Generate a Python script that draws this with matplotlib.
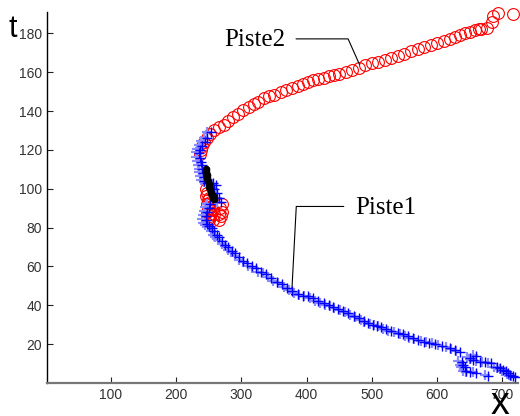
import numpy as np
import matplotlib
matplotlib.use("Agg")
import matplotlib.pyplot as plt
from matplotlib.transforms import ScaledTranslation

# Piste2 (red circles): x, t
piste2_x = [250, 252, 248, 254, 250, 247, 253, 249, 246, 251, 248, 245, 250, 256, 252,
            266, 268, 270, 267, 270, 265, 256, 258,
            236, 238, 240, 243, 247, 252, 258, 266, 273, 280, 287, 295, 303, 312, 320,
            326, 334, 342, 350, 360, 369, 378, 386, 394, 402, 410, 418, 426, 434, 442,
            450, 460, 470, 480, 490, 500, 510, 520, 530, 540, 550, 560, 570, 580, 590,
            600, 610, 620, 628, 635, 642, 650, 658, 664, 668, 676, 684, 686, 694, 717]
piste2_t = [84, 86, 88, 87, 90, 92, 91, 94, 96, 95, 98, 100, 85, 89, 93,
            84, 86, 88, 90, 92, 87, 84, 87,
            118, 120, 122, 124, 126, 128, 130, 132, 133, 135, 137, 138.5, 140.5, 142, 143.5,
            144.5, 146.5, 147.5, 148.5, 150, 151, 152, 153, 154, 155, 156, 156.5, 157, 158, 158.5,
            159, 160, 161, 162, 163.5, 164.5, 165.5, 166.5, 167.5, 168.5, 169.5, 171, 172, 173, 174,
            175, 176, 177, 178, 179, 180, 180.5, 181.5, 182, 182.5, 183, 186, 189, 190.5, 190]

# Piste1 (blue crosses): x, t
piste1_x = [253, 248, 244, 240, 237, 235, 236, 238, 239, 240, 241, 242, 243, 248, 256,
            261, 258, 262, 266, 268, 252, 250, 248, 246, 245, 247, 250, 255, 258, 262,
            265, 270, 275, 280, 285, 290, 296, 302, 308, 316, 322, 330, 338, 346, 354,
            362, 370, 378, 386, 394, 402, 410, 418, 426, 434, 441, 448, 456, 464, 472,
            480, 488, 494, 502, 508, 514, 522, 530, 540, 548, 556, 563, 570, 580, 588,
            597, 607, 619, 627, 635, 651, 655, 660, 638, 640, 642, 645, 650, 660, 678,
            665, 674, 683, 692, 697, 701, 705, 709, 712, 716, 719]
piste1_t = [129, 126, 124, 122, 120, 118.5, 116, 114, 112, 110, 108, 106, 104, 103, 103,
            102, 100, 98, 95, 93, 92, 90, 88, 86, 84, 82, 81, 80, 78, 76,
            75, 73, 71, 70, 68, 67, 65, 63, 62, 60, 59, 57, 56, 54, 52,
            51, 49, 47.5, 46, 45, 44.5, 43.5, 42, 41, 40, 39, 38, 37, 36, 34.5,
            33.5, 32, 31, 30, 29.5, 28.7, 27.5, 26.5, 25.7, 25, 24, 23, 22, 21, 20.5,
            20, 19, 18, 17, 16, 13, 12, 14, 11, 9, 8, 6, 5.5, 5, 3.5,
            11, 10.6, 10, 8, 7.5, 6.6, 6, 5, 4, 3.5, 3]

# black dots between the two tracks
black_x = [245, 246, 247, 248, 249, 250, 251, 252, 254, 255, 256, 257, 258]
black_t = [110, 108.5, 107, 105.5, 104, 102.5, 101, 100, 98, 97, 96, 95, 94.5]

fig = plt.figure(figsize=(5.2, 4.16), dpi=100)
ax = fig.add_axes([47 / 520, 1 - 382.9 / 416, 471 / 520, 370.9 / 416])

ax.plot(piste2_x, piste2_t, 'o', ls='none', ms=8.5, mfc='none', mec='red', mew=0.8,
        clip_on=False, zorder=3)

shadow = ax.transData + ScaledTranslation(-2.5 / 72, 0.5 / 72, fig.dpi_scale_trans)
ax.plot(piste1_x, piste1_t, '+', ls='none', ms=7, mec='#8c8cff', mew=1.6,
        transform=shadow, clip_on=False, zorder=3.5)
ax.plot(piste1_x, piste1_t, '+', ls='none', ms=7, mec='#0000ff', mew=1.0,
        clip_on=False, zorder=4)
ax.plot(black_x, black_t, 'o', ls='none', ms=4.5, color='black', zorder=5)

ax.set_xlim(2, 724)
ax.set_ylim(0, 191)
ax.set_xticks([100, 200, 300, 400, 500, 600, 700])
ax.set_yticks([20, 40, 60, 80, 100, 120, 140, 160, 180])
ax.tick_params(direction='in', length=4, width=0.8, labelsize=10,
               labelcolor='#333333', color='#222222')
for lab in ax.get_xticklabels() + ax.get_yticklabels():
    lab.set_family('Liberation Sans')

ax.spines['top'].set_visible(False)
ax.spines['right'].set_visible(False)
ax.spines['left'].set_linewidth(1.0)
ax.spines['bottom'].set_color('#777777')
ax.spines['bottom'].set_linewidth(1.6)

fig.text(0.025, 1 - 37 / 416, 't', fontsize=22, family='Liberation Sans',
         ha='center', va='baseline')
fig.text(0.962, 0.006, 'x', fontsize=27, family='Liberation Sans',
         ha='center', va='baseline')

ax.annotate('Piste2', xy=(481, 164), xytext=(273, 173.5), textcoords='data',
            fontsize=18, family='Liberation Serif', ha='left', va='baseline',
            arrowprops=dict(arrowstyle='-', color='black', lw=0.8, relpos=(1, 0.55),
                            shrinkA=6, shrinkB=0,
                            connectionstyle='angle,angleA=0,angleB=114,rad=0'))
ax.annotate('Piste1', xy=(377, 45.3), xytext=(474, 87.2), textcoords='data',
            fontsize=18, family='Liberation Serif', ha='left', va='baseline',
            arrowprops=dict(arrowstyle='-', color='black', lw=0.8, relpos=(0, 0.55),
                            shrinkA=6, shrinkB=0,
                            connectionstyle='angle,angleA=0,angleB=87,rad=0'))

fig.savefig('out.png', dpi=100)
